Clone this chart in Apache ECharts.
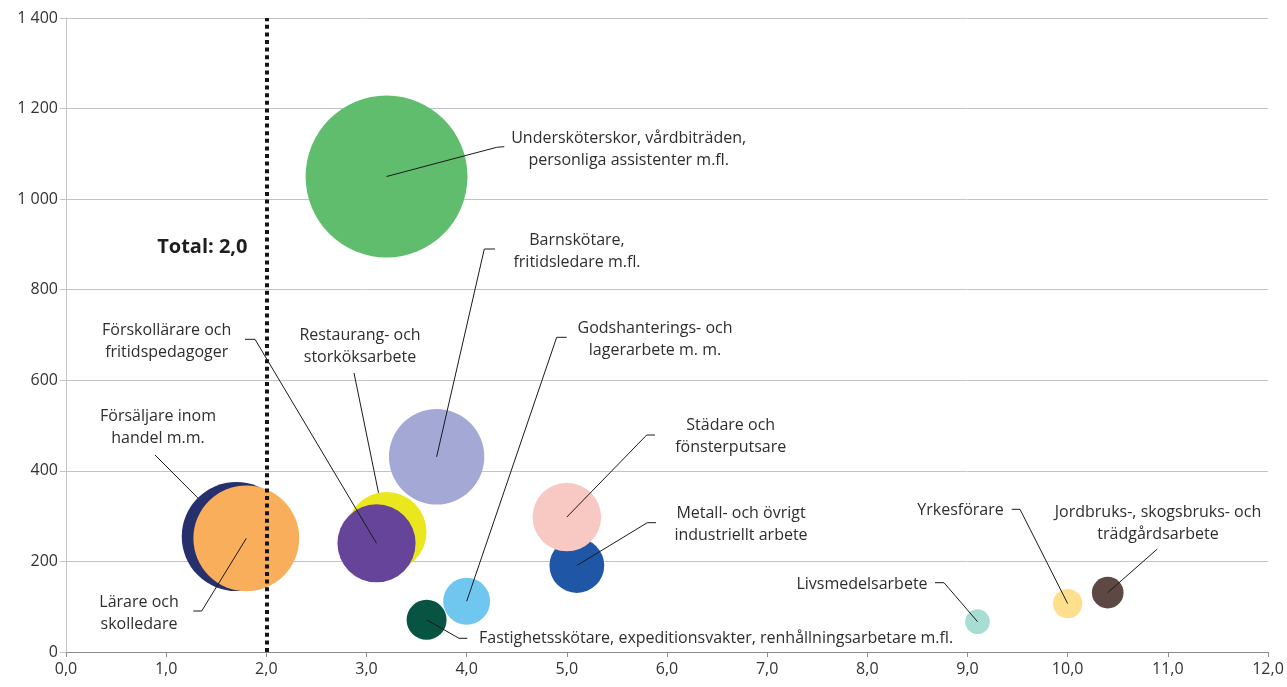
<!DOCTYPE html>
<html>
<head>
<meta charset="utf-8">
<script src="https://cdn.jsdelivr.net/npm/echarts@6/dist/echarts.min.js"></script>
<style>html,body{margin:0;padding:0;background:#fff}#c{width:1287px;height:687px}</style>
</head>
<body>
<div id="c"></div>
<script>
// ---- data ----
const categories = [
  'Försäljare inom\nhandel m.m.',
  'Lärare och\nskolledare',
  'Restaurang- och\nstorköksarbete',
  'Förskollärare och\nfritidspedagoger',
  'Undersköterskor, vårdbiträden,\npersonliga assistenter m.fl.',
  'Barnskötare,\nfritidsledare m.fl.',
  'Metall- och övrigt\nindustriellt arbete',
  'Städare och\nfönsterputsare',
  'Godshanterings- och\nlagerarbete m. m.',
  'Fastighetsskötare, expeditionsvakter, renhållningsarbetare m.fl.',
  'Livsmedelsarbete',
  'Yrkesförare',
  'Jordbruks-, skogsbruks- och\nträdgårdsarbete'
];
const xValues = [1.7, 1.8, 3.2, 3.1, 3.2, 3.7, 5.1, 5.0, 4.0, 3.6, 9.1, 10.0, 10.4];
const yValues = [255, 251, 265, 240, 1050, 431, 191, 298, 112, 71, 67, 107, 131];
const bubbleSizes = [119, 112, 64, 61, 262, 91, 30, 47, 22, 16, 6.1, 8.6, 10];
const totalValue = 2.0;
const xTicks = [0, 1, 2, 3, 4, 5, 6, 7, 8, 9, 10, 11, 12];
const yTicks = [0, 200, 400, 600, 800, 1000, 1200, 1400];

// ---- styles / layout (not data) ----
const colors = ['#25306c', '#f9ae5b', '#ebe71f', '#66449a', '#5fbd6d', '#a4a8d5', '#1f57a6',
  '#f8c9c2', '#6fc6ef', '#075442', '#a8ddd3', '#fedf8e', '#5e4843'];
// label placement in pixels: text anchor, align, leader polyline start points, whether leader stops at bubble edge
const labelLayout = [
  {tx: 158, ty: 427.5, align: 'center', pts: [[155, 455]], edge: true},
  {tx: 139, ty: 613.5, align: 'center', pts: [[193.3, 611], [201.7, 611]]},
  {tx: 360, ty: 346.5, align: 'center', pts: [[354, 373]], edge: true},
  {tx: 166.7, ty: 341.7, align: 'center', pts: [[245, 339.3], [255, 339.3]]},
  {tx: 628.7, ty: 149, align: 'center', pts: [[504.3, 146.7], [496.7, 147.3]]},
  {tx: 577, ty: 251, align: 'center', pts: [[495, 249], [484.3, 249]]},
  {tx: 741, ty: 524, align: 'center', pts: [[656, 522.7], [647.3, 522.7]]},
  {tx: 730.7, ty: 436.7, align: 'center', pts: [[655, 435], [646.7, 435]]},
  {tx: 655, ty: 339.5, align: 'center', pts: [[566.7, 337.3], [556.7, 337.3]]},
  {tx: 479, ty: 638, align: 'left', pts: [[467.3, 638.3], [459, 638.3]]},
  {tx: 862, ty: 584, align: 'center', pts: [[935, 582.7], [944, 582.7]]},
  {tx: 960.5, ty: 510.5, align: 'center', pts: [[1011.7, 509.3], [1020, 509.3]]},
  {tx: 1158, ty: 523, align: 'center', pts: [[1157.3, 549]]}
];
const FONT = '"Open Sans", Lato, sans-serif';
const symbolScale = 10;

const chart = echarts.init(document.getElementById('c'), null, {renderer: 'canvas'});

const points = xValues.map((x, i) => ({
  value: [x, yValues[i], bubbleSizes[i]],
  name: categories[i],
  itemStyle: {color: colors[i], opacity: 1}
}));

chart.setOption({
  animation: false,
  backgroundColor: '#ffffff',
  grid: {left: 66, right: 19, top: 18, bottom: 35, containLabel: false},
  xAxis: {
    type: 'value', min: xTicks[0], max: xTicks[xTicks.length - 1], interval: 1,
    splitLine: {show: false},
    axisLine: {show: true, lineStyle: {color: '#8c8c8c', width: 1}},
    axisTick: {show: true, length: 5, lineStyle: {color: '#8c8c8c'}},
    axisLabel: {color: '#333333', fontFamily: FONT, fontSize: 16, margin: 9,
      formatter: v => v.toFixed(1).replace('.', ',')}
  },
  yAxis: {
    type: 'value', min: yTicks[0], max: yTicks[yTicks.length - 1], interval: 200,
    splitLine: {show: true, lineStyle: {color: '#c3c3c3', width: 1}},
    axisLine: {show: true, lineStyle: {color: '#c3c3c3', width: 1}},
    axisTick: {show: true, length: 6, lineStyle: {color: '#c3c3c3'}},
    axisLabel: {color: '#333333', fontFamily: FONT, fontSize: 16, margin: 8,
      formatter: v => String(v).replace(/\B(?=(\d{3})+(?!\d))/g, ' ')}
  },
  series: [{
    type: 'scatter',
    data: points,
    symbolSize: d => symbolScale * Math.sqrt(d[2]),
    itemStyle: {opacity: 1},
    emphasis: {disabled: true},
    z: 2,
    markLine: {
      silent: true,
      symbol: ['none', 'none'],
      label: {show: false},
      z: 5,
      lineStyle: {color: '#141414', width: 4, type: [4, 3.6]},
      data: [{xAxis: totalValue}]
    }
  }]
});

// leader lines and labels as graphics, anchored to the bubble centres given by the axes
const elements = [];
points.forEach((p, i) => {
  const L = labelLayout[i];
  const c = chart.convertToPixel({seriesIndex: 0}, [p.value[0], p.value[1]]);
  let end = c;
  const last = L.pts[L.pts.length - 1];
  if (L.edge) {
    const r = symbolScale * Math.sqrt(p.value[2]) / 2;
    const dx = c[0] - last[0], dy = c[1] - last[1];
    const len = Math.sqrt(dx * dx + dy * dy);
    end = [c[0] - dx / len * r, c[1] - dy / len * r];
  }
  elements.push({
    type: 'polyline', z: 100, silent: true,
    shape: {points: L.pts.concat([end])},
    style: {stroke: '#1a1a1a', lineWidth: 1, fill: null}
  });
  elements.push({
    type: 'text', z: 100, silent: true, x: L.tx, y: L.ty,
    style: {text: categories[i], fill: '#2e2e2e', font: '16px ' + FONT,
      align: L.align, verticalAlign: 'middle', lineHeight: 22}
  });
});
const cTot = chart.convertToPixel({seriesIndex: 0}, [totalValue, 0]);
elements.push({
  type: 'text', z: 100, silent: true, x: cTot[0] - 64, y: 247,
  style: {text: 'Total: ' + totalValue.toFixed(1).replace('.', ','), fill: '#1e1e1e',
    font: 'bold 20px ' + FONT, align: 'center', verticalAlign: 'middle'}
});
chart.setOption({graphic: {elements: elements}});
</script>
</body>
</html>
